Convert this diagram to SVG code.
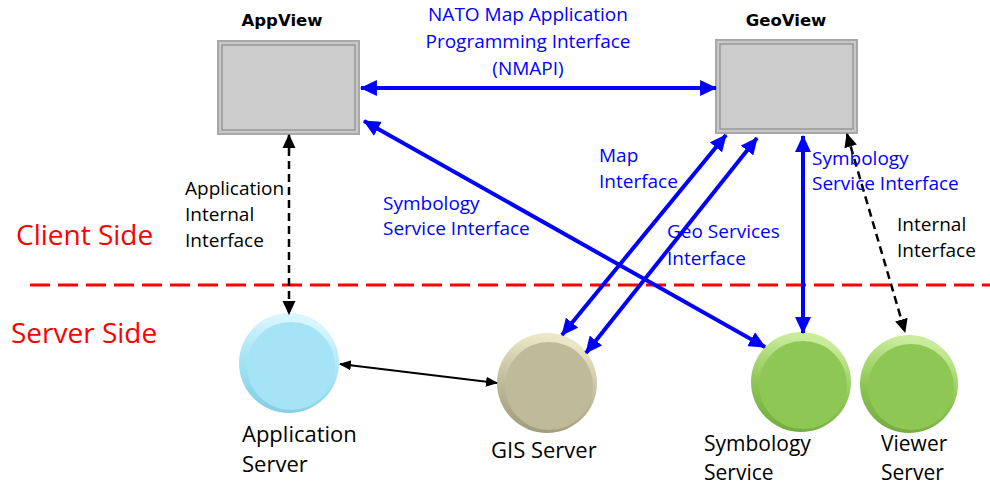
<svg xmlns="http://www.w3.org/2000/svg" width="990" height="486" viewBox="0 0 990 486">
<style>
text{font-family:"Open Sans","Liberation Sans",sans-serif;}
.title{font-family:"DejaVu Sans","Liberation Sans",sans-serif;font-weight:bold;font-size:16.5px;fill:#000;text-anchor:middle;}
.lbl{font-size:19px;fill:#000;}
.blue{font-size:19px;fill:#0000ff;}
.node{font-size:22px;fill:#000;}
.node2{font-size:21px;fill:#000;}
.side{font-size:28px;fill:#ff0000;}
.bl{stroke:#0000ff;stroke-width:4;fill:none;}
.dash{stroke:#000;stroke-width:2.5;stroke-dasharray:8 5;fill:none;}
.thin{stroke:#000;stroke-width:2;fill:none;}
.box-outer{fill:#c8c8c8;stroke:#a8a8a8;stroke-width:2;}
.box-inner{fill:#cccccc;stroke:#8c8c8c;stroke-width:1.2;}
</style>
<defs>
<marker id="ab" markerUnits="userSpaceOnUse" markerWidth="17" markerHeight="16" refX="15" refY="7.5" orient="auto-start-reverse" viewBox="0 0 16 15">
<path d="M0,0 L16,7.5 L0,15 Z" fill="#0000ff"/>
</marker>
<marker id="ak" markerUnits="userSpaceOnUse" markerWidth="14" markerHeight="14" refX="12" refY="6" orient="auto-start-reverse" viewBox="0 0 13 12">
<path d="M0,0 L13,6 L0,12 Z" fill="#000"/>
</marker>
<marker id="ak2" markerUnits="userSpaceOnUse" markerWidth="12" markerHeight="12" refX="11" refY="5" orient="auto-start-reverse" viewBox="0 0 12 10">
<path d="M0,0 L12,5 L0,10 Z" fill="#000"/>
</marker>
<linearGradient id="rimBlue" x1="0.2" y1="0" x2="0" y2="1">
<stop offset="0" stop-color="#d8f6fd"/><stop offset="0.5" stop-color="#a3e3f4"/><stop offset="1" stop-color="#7ecbe0"/>
</linearGradient>
<linearGradient id="rimTan" x1="0.2" y1="0" x2="0" y2="1">
<stop offset="0" stop-color="#ebe6c8"/><stop offset="0.5" stop-color="#bfba98"/><stop offset="1" stop-color="#9c9774"/>
</linearGradient>
<linearGradient id="rimGreen" x1="0.2" y1="0" x2="0" y2="1">
<stop offset="0" stop-color="#c8ec9c"/><stop offset="0.5" stop-color="#8fc755"/><stop offset="1" stop-color="#6fa73b"/>
</linearGradient>
</defs>

<rect width="990" height="486" fill="#ffffff"/>

<!-- divider -->
<line x1="30" y1="285" x2="990" y2="285" stroke="#ff0000" stroke-width="3" stroke-dasharray="20 8"/>
<text class="side" x="16" y="245">Client Side</text>
<text class="side" x="11" y="343">Server Side</text>

<g id="appview">
<text class="title" x="282" y="26">AppView</text>
<rect class="box-outer" x="218" y="41" width="141" height="93"/>
<rect class="box-inner" x="222" y="45" width="133" height="85"/>
</g>

<g id="geoview">
<text class="title" x="786" y="26">GeoView</text>
<rect class="box-outer" x="716" y="40" width="141" height="93"/>
<rect class="box-inner" x="720" y="44" width="133" height="85"/>
</g>

<g id="appserver">
<circle cx="289" cy="363" r="50" fill="url(#rimBlue)"/>
<circle cx="291" cy="366" r="44" fill="#a5e4f6"/>
<text class="node" x="242" y="442">Application</text>
<text class="node" x="242" y="472">Server</text>
</g>

<g id="gisserver">
<circle cx="547" cy="383" r="50" fill="url(#rimTan)"/>
<circle cx="549" cy="386" r="44" fill="#bfba99"/>
<text class="node" x="491" y="458">GIS Server</text>
</g>

<g id="symbologyservice">
<circle cx="801" cy="382" r="50" fill="url(#rimGreen)"/>
<circle cx="803" cy="385" r="44" fill="#8fc755"/>
<text class="node2" x="704" y="451">Symbology</text>
<text class="node2" x="704" y="480">Service</text>
</g>

<g id="viewerserver">
<circle cx="909" cy="384" r="49" fill="url(#rimGreen)"/>
<circle cx="911" cy="387" r="43" fill="#8fc755"/>
<text class="node2" x="881" y="451">Viewer</text>
<text class="node2" x="881" y="480">Server</text>
</g>

<g id="connectors">
<line class="bl" x1="361" y1="88" x2="716" y2="88" marker-start="url(#ab)" marker-end="url(#ab)"/>
<line class="bl" x1="364" y1="121" x2="765" y2="347" marker-start="url(#ab)" marker-end="url(#ab)"/>
<line class="bl" x1="726" y1="135" x2="562" y2="335" marker-start="url(#ab)" marker-end="url(#ab)"/>
<line class="bl" x1="757" y1="138" x2="586" y2="353" marker-start="url(#ab)" marker-end="url(#ab)"/>
<line class="bl" x1="803" y1="136" x2="803" y2="333" marker-start="url(#ab)" marker-end="url(#ab)"/>
<line class="dash" x1="847" y1="134" x2="905" y2="332" marker-start="url(#ak)" marker-end="url(#ak)"/>
<line class="dash" x1="289" y1="135" x2="289" y2="314" marker-start="url(#ak)" marker-end="url(#ak)"/>
<line class="thin" x1="340" y1="364" x2="497" y2="383" marker-start="url(#ak2)" marker-end="url(#ak2)"/>
</g>

<g id="labels">
<text class="blue" text-anchor="middle"><tspan x="528" y="21">NATO Map Application</tspan><tspan x="528" y="48">Programming Interface</tspan><tspan x="528" y="75">(NMAPI)</tspan></text>
<text class="lbl"><tspan x="185" y="195">Application</tspan><tspan x="185" y="221">Internal</tspan><tspan x="185" y="247">Interface</tspan></text>
<text class="blue"><tspan x="383" y="210">Symbology</tspan><tspan x="383" y="235">Service Interface</tspan></text>
<text class="blue"><tspan x="599" y="162">Map</tspan><tspan x="599" y="188">Interface</tspan></text>
<text class="blue"><tspan x="667" y="238">Geo Services</tspan><tspan x="667" y="265">Interface</tspan></text>
<text class="blue"><tspan x="812" y="165">Symbology</tspan><tspan x="812" y="190">Service Interface</tspan></text>
<text class="lbl"><tspan x="897" y="231">Internal</tspan><tspan x="897" y="257">Interface</tspan></text>
</g>
</svg>
